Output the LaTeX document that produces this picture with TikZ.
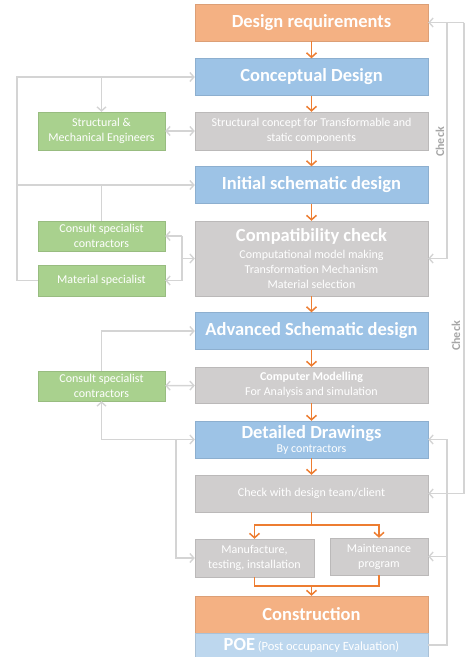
\documentclass[tikz,border=0pt]{standalone}
\usepackage{fontspec}
\setmainfont{Carlito}
\usetikzlibrary{arrows.meta,positioning,calc}
\definecolor{cOrange}{HTML}{F4B183}
\definecolor{cBlue}{HTML}{9DC3E6}
\definecolor{cPale}{HTML}{BDD7EE}
\definecolor{cGray}{HTML}{D0CECE}
\definecolor{cGreen}{HTML}{A9D18E}
\definecolor{cArrow}{HTML}{ED7D31}
\definecolor{cLine}{HTML}{D4D4D4}
\definecolor{cText}{HTML}{A6A6A6}
\newcommand\hfont{\fontsize{18.5}{20}\selectfont\bfseries}
\newcommand\tfont{\fontsize{12}{15}\selectfont}
\tikzset{
  fbox/.style={fill=#1,draw=#1!90!black,line width=0.4pt,text=white,align=center,inner sep=2pt,font=\tfont},
  stage/.style={fbox=#1,minimum width=233pt,minimum height=37pt},
  side/.style={fbox=cGreen,minimum width=127pt,minimum height=30pt},
  oarr/.style={-{Straight Barb[length=4.5pt,width=10pt,line width=1.5pt]},line width=1.5pt,draw=cArrow},
  oline/.style={line width=1.5pt,draw=cArrow},
  garr/.style={-{Straight Barb[length=4pt,width=9pt,line width=1.4pt]},line width=1.6pt,draw=cLine},
  gdarr/.style={{Straight Barb[length=4pt,width=9pt,line width=1.4pt]}-{Straight Barb[length=4pt,width=9pt,line width=1.4pt]},line width=1.6pt,draw=cLine},
  gline/.style={line width=1.6pt,draw=cLine},
  checklbl/.style={rotate=90,text=cText,font=\fontsize{12}{14}\selectfont\bfseries},
}

\begin{document}
\begin{tikzpicture}[x=1pt,y=-1pt]
  \useasboundingbox (0,0) rectangle (465,657);
  % main column
  \node[stage=cOrange,font=\hfont] (req)     at (311.5,22.5) {Design requirements};
  \node[stage=cBlue,font=\hfont]   (concept) at (311.5,77)   {Conceptual Design};
  \node[stage=cGray,minimum height=38pt] (sconc) at (311.5,131) {Structural concept for Transformable and\\ static components};
  \node[stage=cBlue,font=\hfont]   (initial) at (311.5,185)  {Initial schematic design};
  \node[stage=cGray,minimum height=75pt] (compat) at (311.5,258.5) {{\hfont Compatibility check}\\[2pt] Computational model making\\ Transformation Mechanism\\ Material selection};
  \node[stage=cBlue,font=\hfont]   (adv)     at (311.5,331)  {Advanced Schematic design};
  \node[stage=cGray,minimum height=36pt] (model) at (311.5,385) {\textbf{Computer Modelling}\\ For Analysis and simulation};
  \node[stage=cBlue]               (detail)  at (311.5,439.5) {{\hfont Detailed Drawings}\\[-1pt] By contractors};
  \node[stage=cGray]               (chk)     at (311.5,493.5) {Check with design team/client};
  \node[fbox=cGray,minimum width=119pt,minimum height=38pt] (manu)  at (254.5,558) {Manufacture,\\ testing, installation};
  \node[fbox=cGray,minimum width=98pt,minimum height=37pt]  (maint) at (379,556.5) {Maintenance\\ program};
  \node[stage=cOrange,font=\hfont] (constr)  at (311.5,614.5) {Construction};
  \node[stage=cPale,minimum height=24pt] (poe) at (311.5,645) {{\hfont POE} {\fontsize{12.5}{15}\selectfont(Post occupancy Evaluation)}};
  % specialists
  \node[side,minimum height=38pt] (sme)  at (101.5,131)   {Structural \&\\ Mechanical Engineers};
  \node[side]                     (csc1) at (101.5,236)   {Consult specialist\\ contractors};
  \node[side,minimum height=31pt] (mat)  at (101.5,280.5) {Material specialist};
  \node[side]                     (csc2) at (101.5,386)   {Consult specialist\\ contractors};
  \node[checklbl] (chkA) at (440,142) {Check};
  \node[checklbl] (chkB) at (456,336) {Check};
  % flow
  \foreach \a/\b in {req/concept,concept/sconc,sconc/initial,initial/compat,compat/adv,adv/model,model/detail,detail/chk}
    \draw[oarr] (\a) -- (\b);
  \draw[oline] (chk.south) -- ++(0,13) coordinate (fork);
  \draw[oarr] (fork) -| (manu.north);
  \draw[oarr] (fork) -| (maint.north);
  \draw[oline] (manu.south) -- ++(0,9) -| (maint.south);
  \coordinate (join) at (311.5,587);
  \draw[oarr] (join) -- (constr.north);
  % left feedback
  \coordinate (lcol) at (17,0);
  \coordinate (brk) at (182,0);
  \coordinate (lbr) at (176,0);
  \draw[garr] (mat.west) -- (mat.west -| lcol) -- (lcol |- concept.west) -- (concept.west);
  \draw[garr] (lcol |- initial.west) -- (initial.west);
  \draw[garr] (sme.north |- concept.west) -- (sme.north);
  \draw[gline] (csc1.north) -- (csc1.north |- initial.west);
  \draw[gdarr] (sme) -- (sconc);
  \draw[gline] (brk |- csc1.east) -- (brk |- mat.east);
  \draw[garr] (brk |- csc1.east) -- (csc1.east);
  \draw[garr] (brk |- mat.east) -- (mat.east);
  \draw[garr] (brk |- compat.west) -- (compat.west);
  \draw[garr] (csc2.north) |- (adv.west);
  \draw[gdarr] (csc2) -- (model);
  \draw[gdarr] (csc2.south) |- (detail.west);
  \draw[garr] (lbr |- detail.west) |- (manu.west);
  % right feedback
  \coordinate (rin) at (447,0);
  \coordinate (rout) at (464,0);
  \draw[garr] (rout |- req.east) -- (req.east);
  \draw[garr] (rin |- req.east) |- (compat.east);
  \draw[garr] (rout |- req.east) |- (chk.east);
  \draw[garr] (poe.east) -- (poe.east -| rin) -- (rin |- detail.east) -- (detail.east);
  \draw[garr] (rin |- maint.east) -- (maint.east);
\end{tikzpicture}
\end{document}
